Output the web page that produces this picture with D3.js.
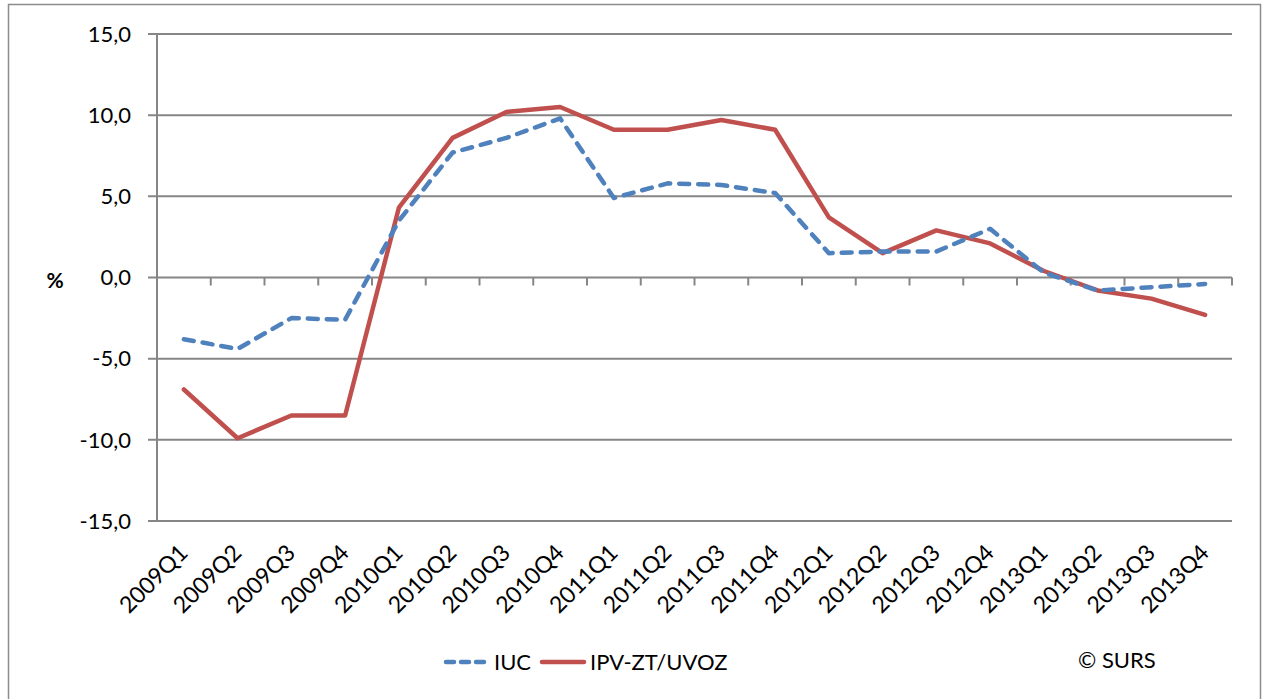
<!DOCTYPE html>
<html>
<head>
<meta charset="utf-8">
<script src="https://cdn.jsdelivr.net/npm/d3@7"></script>
<style>
  body { margin: 0; background: #fff; }
  text { font-family: Lato, "Open Sans", sans-serif; fill: #000; }
</style>
</head>
<body>
<div id="container"></div>
<script>
var quarters = ["2009Q1","2009Q2","2009Q3","2009Q4","2010Q1","2010Q2","2010Q3","2010Q4",
  "2011Q1","2011Q2","2011Q3","2011Q4","2012Q1","2012Q2","2012Q3","2012Q4",
  "2013Q1","2013Q2","2013Q3","2013Q4"];
var iuc = [-3.8,-4.4,-2.5,-2.6,3.5,7.7,8.6,9.8,4.9,5.8,5.7,5.2,1.5,1.6,1.6,3.0,0.3,-0.8,-0.6,-0.4];
var ipv = [-6.9,-9.9,-8.5,-8.5,4.3,8.6,10.2,10.5,9.1,9.1,9.7,9.1,3.7,1.5,2.9,2.1,0.4,-0.8,-1.3,-2.3];
var yTicks = [-15,-10,-5,0,5,10,15];

(function() {
  var w = 1263, h = 699;
  var svg = d3.select("#container").append("svg")
    .attr("width", w).attr("height", h);

  // outer frame
  svg.append("rect").attr("x", 8.5).attr("y", 4.5).attr("width", 1252).attr("height", 700)
    .attr("fill", "none").attr("stroke", "#8c8c8c").attr("stroke-width", 1.5);

  var m = { left: 157, right: 1232, top: 34, bottom: 521 };
  var x = d3.scaleBand().domain(quarters).range([m.left, m.right]);
  var y = d3.scaleLinear().domain([-15, 15]).range([m.bottom, m.top]);
  var grey = "#868686";

  // gridlines
  svg.append("g").selectAll("line").data(yTicks).enter().append("line")
    .attr("x1", m.left - 9).attr("x2", m.right)
    .attr("y1", function(d) { return y(d); }).attr("y2", function(d) { return y(d); })
    .attr("stroke", grey).attr("stroke-width", 2);

  // y axis line
  svg.append("line").attr("x1", m.left).attr("x2", m.left).attr("y1", m.top).attr("y2", m.bottom)
    .attr("stroke", grey).attr("stroke-width", 2);

  // category ticks on zero line
  var bounds = quarters.map(function(q) { return x(q); }).concat([m.right]);
  svg.append("g").selectAll("line").data(bounds).enter().append("line")
    .attr("x1", function(d) { return d; }).attr("x2", function(d) { return d; })
    .attr("y1", y(0)).attr("y2", y(0) + 8)
    .attr("stroke", grey).attr("stroke-width", 2);

  // y labels
  svg.append("g").selectAll("text").data(yTicks).enter().append("text")
    .attr("x", 131).attr("y", function(d) { return y(d); })
    .attr("dy", "0.35em").attr("text-anchor", "end").attr("font-size", 22)
    .text(function(d) { return d3.format(".1f")(d).replace(".", ",").replace("\u2212", "-"); });

  svg.append("text").attr("x", 55).attr("y", y(0) + 3).attr("dy", "0.35em")
    .attr("text-anchor", "middle").attr("font-size", 21).attr("font-weight", "bold").text("%");

  // x labels
  svg.append("g").selectAll("text").data(quarters).enter().append("text")
    .attr("transform", function(d) {
      return "translate(" + (x(d) + x.bandwidth() / 2 - 6) + "," + 543 + ") rotate(-45)";
    })
    .attr("text-anchor", "end").attr("dy", "0.7em").attr("font-size", 23)
    .text(function(d) { return d; });

  var line = d3.line()
    .x(function(d, i) { return x(quarters[i]) + x.bandwidth() / 2; })
    .y(function(d) { return y(d); });

  svg.append("path").datum(ipv).attr("d", line)
    .attr("fill", "none").attr("stroke", "#c0504d").attr("stroke-width", 4.5)
    .attr("stroke-linejoin", "round").attr("stroke-linecap", "round");

  svg.append("path").datum(iuc).attr("d", line)
    .attr("fill", "none").attr("stroke", "#4f81bd").attr("stroke-width", 4.5)
    .attr("stroke-dasharray", "10,9").attr("stroke-linejoin", "round").attr("stroke-linecap", "round");

  // legend
  var ly = 662;
  svg.append("line").attr("x1", 446).attr("x2", 484).attr("y1", ly).attr("y2", ly)
    .attr("stroke", "#4f81bd").attr("stroke-width", 4.5)
    .attr("stroke-dasharray", "8,7").attr("stroke-linecap", "round");
  svg.append("text").attr("x", 494).attr("y", ly).attr("dy", "0.35em").attr("font-size", 22).text("IUC");
  svg.append("line").attr("x1", 542).attr("x2", 584).attr("y1", ly).attr("y2", ly)
    .attr("stroke", "#c0504d").attr("stroke-width", 4.5).attr("stroke-linecap", "round");
  svg.append("text").attr("x", 590).attr("y", ly).attr("dy", "0.35em").attr("font-size", 22).text("IPV-ZT/UVOZ");
  svg.append("text").attr("x", 1078).attr("y", ly - 2).attr("dy", "0.35em").attr("font-size", 22).text("© SURS");
})();
</script>
</body>
</html>
